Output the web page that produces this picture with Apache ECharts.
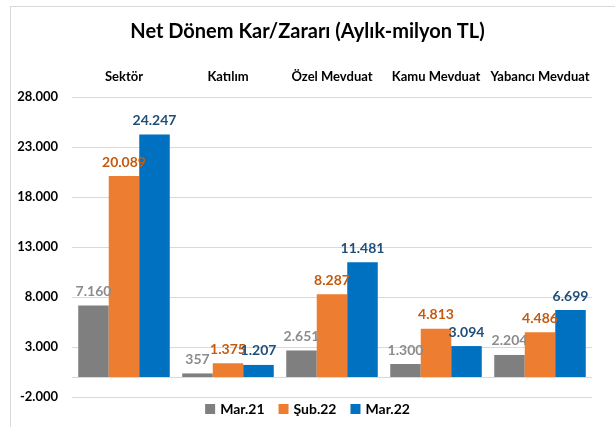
<!doctype html>
<html>
<head>
    <meta charset="utf-8">
    <title>Net Dönem Kar/Zararı</title>
    <style>
        html, body { margin: 0; padding: 0; background: #fff; }
        #frame { position: absolute; left: 10px; top: 6px; width: 620px; height: 430px; border: 1px solid #d9d9d9; }
        #chart { position: absolute; left: 0; top: 0; width: 615px; height: 427px; }
    </style>
</head>
<body>
<div id="frame"></div>
<div id="chart"></div>
<script src="https://cdn.jsdelivr.net/npm/echarts@6/dist/echarts.min.js"></script>
<script>
    // veriler
    var categories = ['Sektör', 'Katılım', 'Özel Mevduat', 'Kamu Mevduat', 'Yabancı Mevduat'];
    var seriesNames = ['Mar.21', 'Şub.22', 'Mar.22'];
    var mar21 = [7160, 357, 2651, 1300, 2204];
    var sub22 = [20089, 1375, 8287, 4813, 4486];
    var mar22 = [24247, 1207, 11481, 3094, 6699];

    var barColors = ['#7f7f7f', '#ed7d31', '#0070c0'];
    var labelColors = ['#8c8c8c', '#c55a11', '#1f4e79'];
    var font = 'Lato, "Open Sans", sans-serif';

    function fmt(v) {
        var s = Math.abs(v).toString().replace(/\B(?=(\d{3})+(?!\d))/g, '.');
        return (v < 0 ? '-' : '') + s;
    }

    function mkSeries(i, data) {
        return {
            name: seriesNames[i],
            type: 'bar',
            data: data,
            barGap: 0,
            barCategoryGap: '12%',
            itemStyle: { color: barColors[i] },
            label: {
                show: true,
                position: 'top',
                distance: 7,
                color: labelColors[i],
                fontFamily: font,
                fontWeight: 'bold',
                fontSize: 14,
                formatter: function (p) { return fmt(p.value); }
            }
        };
    }

    var myChart = echarts.init(document.getElementById('chart'));
    var series = [mkSeries(0, mar21), mkSeries(1, sub22), mkSeries(2, mar22)];
    // sıfır çizgisi
    series[0].markLine = {
        silent: true,
        symbol: 'none',
        label: { show: false },
        lineStyle: { color: '#d9d9d9', type: 'solid', width: 1 },
        data: [{ yAxis: 0 }]
    };

    var option = {
        animation: false,
        title: {
            text: 'Net Dönem Kar/Zararı (Aylık-milyon TL)',
            left: 'center',
            top: 17,
            textStyle: { fontFamily: font, fontWeight: 'bold', fontSize: 20, color: '#000' }
        },
        legend: {
            data: seriesNames,
            bottom: 6,
            left: 'center',
            itemWidth: 10,
            itemHeight: 10,
            icon: 'rect',
            itemGap: 14,
            textStyle: { fontFamily: font, fontWeight: 'bold', fontSize: 14, color: '#000' }
        },
        grid: { left: 72, right: 23, top: 97, bottom: 30, containLabel: false },
        xAxis: {
            type: 'category',
            data: categories,
            position: 'top',
            axisLine: { show: false, onZero: false },
            axisTick: { show: false },
            axisLabel: {
                interval: 0,
                margin: 14,
                color: '#000',
                fontFamily: font,
                fontWeight: 'bold',
                fontSize: 13
            }
        },
        yAxis: {
            type: 'value',
            min: -2000,
            max: 28000,
            interval: 5000,
            axisLine: { show: false },
            axisTick: { show: false },
            splitLine: { lineStyle: { color: '#d9d9d9' } },
            axisLabel: {
                color: '#000',
                fontFamily: font,
                fontWeight: 'bold',
                fontSize: 13,
                margin: 14,
                formatter: function (v) { return fmt(v); }
            }
        },
        series: series
    };
    myChart.setOption(option);
</script>
</body>
</html>
